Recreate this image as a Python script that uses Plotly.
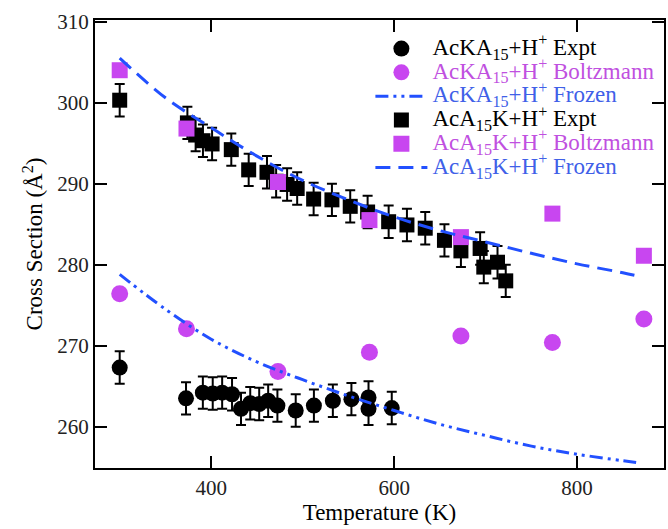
import plotly.graph_objects as go

# ---- data ----
T_acka_expt = [300, 372.5, 390.9, 401.7, 412, 422.8, 432.6, 442.7, 452.5, 462.3, 472.4,
               492.4, 512.3, 533, 553.3, 572, 572, 597.4]
cs_acka_expt = [267.3, 263.5, 264.2, 264.1, 264.2, 264.0, 262.2, 262.9, 262.8, 263.2, 262.6,
                262.0, 262.6, 263.2, 263.4, 263.6, 262.2, 262.3]
err_acka_expt = [2.0] * len(T_acka_expt)

T_aca_expt = [300, 374, 383, 391, 401, 422, 441, 461, 471, 483, 494, 512, 532, 552,
              571, 594, 614, 634, 655, 673, 694, 698, 713, 722]
cs_aca_expt = [300.3, 297.5, 296.0, 295.3, 294.9, 294.2, 291.7, 291.4, 290.3, 289.9, 289.4,
               288.1, 288.0, 287.2, 286.5, 285.3, 284.9, 284.5, 283.0, 281.7, 282.0, 279.7,
               280.3, 278.0]
err_aca_expt = [2.0] * len(T_aca_expt)

T_boltz = [300, 373, 473, 573, 673, 773, 873]
cs_acka_boltz = [276.4, 272.1, 266.8, 269.2, 271.2, 270.4, 273.3]
cs_aca_boltz = [304.0, 296.8, 290.2, 285.5, 283.4, 286.3, 281.1]

T_frozen = [300, 350, 400, 450, 500, 550, 600, 650, 700, 750, 800, 850, 870]
cs_acka_frozen = [278.8, 274.5, 270.8, 268.0, 265.8, 263.8, 262.0, 260.3, 258.9, 257.6,
                  256.6, 255.8, 255.5]
cs_aca_frozen = [305.5, 300.6, 296.9, 293.4, 290.4, 288.0, 285.9, 284.2, 282.8, 281.4,
                 280.1, 279.0, 278.5]

MAG = "#C846F0"
BLUE = "#2250FF"
TXT_MAG = "#C050E0"
TXT_BLUE = "#4060E8"


def lbl(base, kind, color):
    return ('<span style="font-size:23px;color:%s">%s+H<sup>+</sup> %s</span>'
            % (color, base, kind))


ACKA = "AcKA<sub>15</sub>"
ACA = "AcA<sub>15</sub>K"

fig = go.Figure()

fig.add_trace(go.Scatter(
    x=T_acka_expt, y=cs_acka_expt, mode="markers",
    marker=dict(symbol="circle", size=16, color="black"),
    error_y=dict(type="data", array=err_acka_expt, color="black", thickness=2, width=5),
    name=lbl(ACKA, "Expt", "black"), legendrank=1))
fig.add_trace(go.Scatter(
    x=T_aca_expt, y=cs_aca_expt, mode="markers",
    marker=dict(symbol="square", size=15, color="black"),
    error_y=dict(type="data", array=err_aca_expt, color="black", thickness=2, width=5),
    name=lbl(ACA, "Expt", "black"), legendrank=4))
fig.add_trace(go.Scatter(
    x=T_boltz, y=cs_acka_boltz, mode="markers",
    marker=dict(symbol="circle", size=17, color=MAG),
    name=lbl(ACKA, "Boltzmann", TXT_MAG), legendrank=2))
fig.add_trace(go.Scatter(
    x=T_boltz, y=cs_aca_boltz, mode="markers",
    marker=dict(symbol="square", size=16, color=MAG),
    name=lbl(ACA, "Boltzmann", TXT_MAG), legendrank=5))
fig.add_trace(go.Scatter(
    x=T_frozen, y=cs_acka_frozen, mode="lines", line_shape="spline",
    line=dict(color=BLUE, width=3, dash="13px,5px,3px,5px,3px,5px"),
    name=lbl(ACKA, "Frozen", TXT_BLUE), legendrank=3))
fig.add_trace(go.Scatter(
    x=T_frozen, y=cs_aca_frozen, mode="lines", line_shape="spline",
    line=dict(color=BLUE, width=3, dash="15px,8px"),
    name=lbl(ACA, "Frozen", TXT_BLUE), legendrank=6))

axis_common = dict(
    showline=True, linecolor="black", linewidth=2, mirror="ticks",
    ticks="inside", ticklen=12, tickwidth=2, tickcolor="black",
    showgrid=False, zeroline=False,
    tickfont=dict(family="Liberation Serif", size=21, color="#222"),
)

fig.update_layout(
    width=668, height=529,
    margin=dict(l=95, r=2, t=20, b=61),
    paper_bgcolor="white", plot_bgcolor="white",
    font=dict(family="Liberation Serif", color="black"),
    showlegend=True,
    legend=dict(x=0.484, xanchor="left", y=0.974, yanchor="top",
                bgcolor="rgba(0,0,0,0)", borderwidth=0,
                font=dict(family="Liberation Serif", size=16),
                itemwidth=52, tracegroupgap=0),
    xaxis=dict(range=[273, 895], tickvals=[400, 600, 800],
               title=dict(text="Temperature (K)", font=dict(size=23), standoff=4),
               **axis_common),
    yaxis=dict(range=[254.9, 310.2], tickvals=[260, 270, 280, 290, 300, 310],
               title=dict(text="Cross Section (Å<sup>2</sup>)", font=dict(size=23), standoff=8),
               **axis_common),
)

fig.write_html("out.html",
               config={"displayModeBar": False},
               post_script="document.body.style.margin='0';document.body.style.padding='0';")
